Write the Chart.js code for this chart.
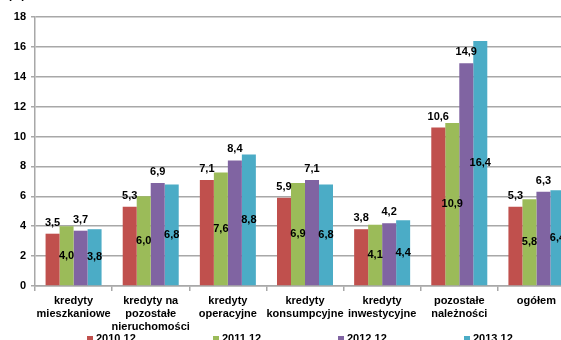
<!DOCTYPE html>
<html>
<head>
<meta charset="utf-8">
<script src="https://cdn.jsdelivr.net/npm/chart.js@4"></script>
<style>
  body { margin:0; overflow:hidden; background:#fff; }
  #wrap { position:relative; width:590px; height:360px; }
  .lg { position:absolute; top:332px; font:bold 11px "Liberation Sans Narrow","Liberation Sans",Arial,sans-serif; color:#000; white-space:nowrap; }
  .lg i { display:inline-block; width:6px; height:6px; margin-right:3px; vertical-align:0px; }
  #unit { position:absolute; left:8px; top:-11px; font:bold 11px "Liberation Sans Narrow","Liberation Sans",Arial,sans-serif; }
</style>
</head>
<body>
<div id="wrap">
  <canvas id="c" width="590" height="360"></canvas>
  <div id="unit">(%)</div>
  <div class="lg" style="left:87px;"><i style="background:#C0504D"></i>2010.12</div>
  <div class="lg" style="left:213px;"><i style="background:#9BBB59"></i>2011.12</div>
  <div class="lg" style="left:338px;"><i style="background:#8064A2"></i>2012.12</div>
  <div class="lg" style="left:464px;"><i style="background:#4BACC6"></i>2013.12</div>
</div>
<script>
const categories = [
  ['kredyty', 'mieszkaniowe'],
  ['kredyty na', 'pozostałe', 'nieruchomości'],
  ['kredyty', 'operacyjne'],
  ['kredyty', 'konsumpcyjne'],
  ['kredyty', 'inwestycyjne'],
  ['pozostałe', 'należności'],
  ['ogółem']
];
const seriesNames = ['2010.12', '2011.12', '2012.12', '2013.12'];
const v2010 = [3.5, 5.3, 7.1, 5.9, 3.8, 10.6, 5.3];
const v2011 = [4.0, 6.0, 7.6, 6.9, 4.1, 10.9, 5.8];
const v2012 = [3.7, 6.9, 8.4, 7.1, 4.2, 14.9, 6.3];
const v2013 = [3.8, 6.8, 8.8, 6.8, 4.4, 16.4, 6.4];
const colors = ['#C0504D', '#9BBB59', '#8064A2', '#4BACC6'];

const FONT = '"Liberation Sans Narrow", "Liberation Sans", Arial, sans-serif';
const GRID = '#a8a8a8';

// values on bars: 1st and 3rd series above, 2nd and 4th in the middle
const barLabels = {
  id: 'barLabels',
  afterDatasetsDraw(chart) {
    const ctx = chart.ctx;
    ctx.save();
    ctx.font = 'bold 11px ' + FONT;
    ctx.fillStyle = '#000';
    ctx.textAlign = 'center';
    ctx.textBaseline = 'middle';
    chart.data.datasets.forEach((ds, i) => {
      chart.getDatasetMeta(i).data.forEach((el, j) => {
        const txt = ds.data[j].toFixed(1).replace('.', ',');
        const y = (i % 2 === 0) ? el.y - 11 : (el.y + el.base) / 2;
        ctx.fillText(txt, el.x, y);
      });
    });
    ctx.restore();
  }
};

new Chart(document.getElementById('c'), {
  type: 'bar',
  data: {
    labels: categories,
    datasets: [v2010, v2011, v2012, v2013].map((d, i) => ({
      label: seriesNames[i],
      data: d,
      backgroundColor: colors[i],
      borderWidth: 0,
      categoryPercentage: 0.726,
      barPercentage: 1.0
    }))
  },
  options: {
    responsive: false,
    animation: false,
    layout: { padding: { top: 17, right: 15, bottom: 14, left: 0 } },
    plugins: { legend: { display: false }, tooltip: { enabled: false } },
    scales: {
      x: {
        grid: { offset: true, drawOnChartArea: false, color: GRID, tickLength: 5, lineWidth: 1.5 },
        border: { color: GRID, width: 1.5 },
        ticks: { color: '#000', font: { family: FONT, size: 11, weight: 'bold', lineHeight: 1.2 }, maxRotation: 0, autoSkip: false, padding: 3 },
        afterFit(s) { s.height = 60; }
      },
      y: {
        min: 0, max: 18,
        ticks: { stepSize: 2, color: '#000', font: { family: FONT, size: 11, weight: 'bold' }, padding: 5 },
        grid: { color: GRID, lineWidth: 1.5, tickLength: 4 },
        border: { color: GRID, width: 1.5 },
        afterFit(s) { s.width = 35; }
      }
    }
  },
  plugins: [barLabels]
});
</script>
</body>
</html>
